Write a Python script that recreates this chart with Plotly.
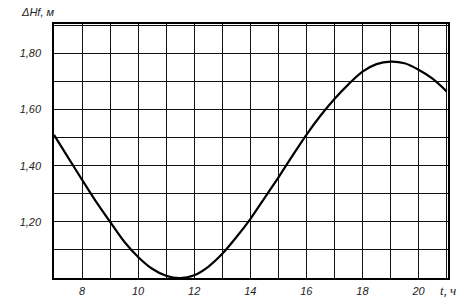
import plotly.graph_objects as go

# Data
t_hours = [7, 7.5, 8, 8.5, 9, 9.5, 10, 10.5, 11, 11.5, 12, 12.5, 13, 13.5, 14,
           14.5, 15, 15.5, 16, 16.5, 17, 17.5, 18, 18.5, 19, 19.5, 20, 20.5, 21]
dHf = [1.51, 1.43, 1.35, 1.272, 1.20, 1.13, 1.075, 1.033, 1.008, 1.0, 1.01, 1.04,
       1.086, 1.145, 1.21, 1.284, 1.358, 1.435, 1.51, 1.578, 1.638, 1.69, 1.735,
       1.762, 1.771, 1.765, 1.742, 1.71, 1.665]

x_tickvals = [8, 10, 12, 14, 16, 18, 20]
x_ticktext = ["8", "10", "12", "14", "16", "18", "20"]
y_tickvals = [1.20, 1.40, 1.60, 1.80]
y_ticktext = ["1,20", "1,40", "1,60", "1,80"]

font_tick = dict(family="Liberation Sans", size=11, color="#222", style="italic")

fig = go.Figure()
fig.add_trace(go.Scatter(x=t_hours, y=dHf, mode="lines",
                         line=dict(color="black", width=2.2, shape="spline", smoothing=0.8),
                         hoverinfo="skip"))

grid = dict(showgrid=True, gridcolor="#111", gridwidth=1.2)
fig.update_xaxes(range=[7, 21.05], tickvals=x_tickvals, ticktext=x_ticktext,
                 tickfont=font_tick, ticks="", zeroline=False, automargin=False,
                 showline=True, linecolor="black", linewidth=1.5, mirror=True,
                 minor=dict(dtick=1, tick0=7, showgrid=True, gridcolor="#111", gridwidth=1.2),
                 ticklabelstandoff=2,
                 **grid)
fig.update_yaxes(range=[1.0, 1.905], tickvals=y_tickvals, ticktext=y_ticktext,
                 tickfont=font_tick, ticks="", zeroline=False, automargin=False,
                 showline=True, linecolor="black", linewidth=1.5, mirror=True,
                 minor=dict(dtick=0.1, tick0=1.0, showgrid=True, gridcolor="#111", gridwidth=1.2),
                 ticklabelstandoff=9,
                 **grid)

fig.add_annotation(text="ΔHf, м", x=0, y=1, xref="paper", yref="paper",
                   xanchor="right", yanchor="bottom", xshift=2, yshift=4,
                   showarrow=False, font=font_tick)
fig.add_annotation(text="t, ч", x=1, y=0, xref="paper", yref="paper",
                   xanchor="center", yanchor="top", xshift=0, yshift=-3,
                   showarrow=False, font=dict(family="Liberation Serif", size=13,
                                               color="#222", style="italic"))

fig.update_layout(width=472, height=300, margin=dict(l=54, r=24, t=24, b=22),
                  paper_bgcolor="white", plot_bgcolor="white", showlegend=False)

fig.write_html("out.html")
